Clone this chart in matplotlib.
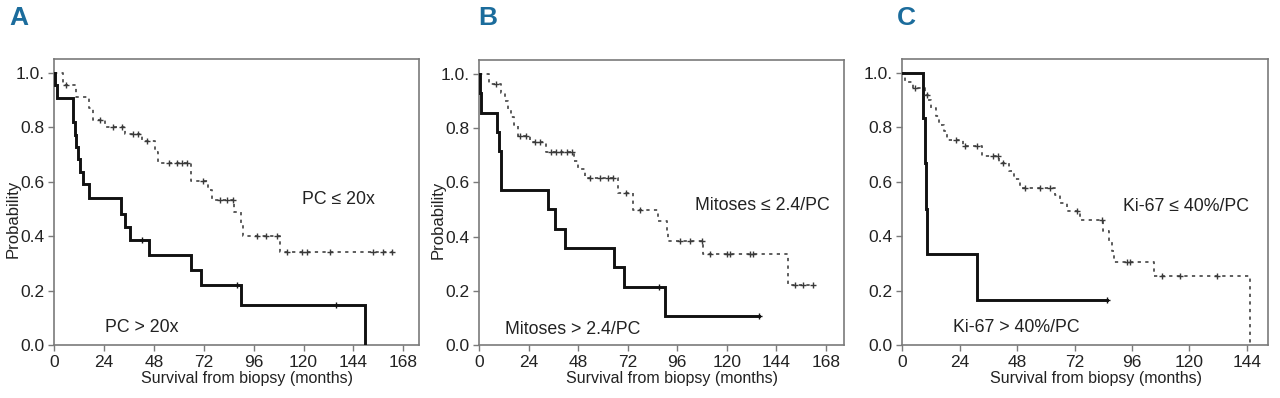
import numpy as np
import matplotlib
matplotlib.use("Agg")
import matplotlib.pyplot as plt

plt.rcParams['font.family'] = ['Liberation Sans Narrow', 'Liberation Sans', 'DejaVu Sans']

# ---------------- data ----------------
# Panel A
a_hi_label = "PC > 20x"
a_hi_t = [0, 0.5, 1.3, 8.8, 9.2, 9.8, 10.4, 11.6, 12.4, 13.6, 16.8, 31.9, 34.0, 36.4, 45.7, 65.6, 70.4, 89.7, 149.5]
a_hi_s = [1.0, 0.955, 0.909, 0.864, 0.818, 0.773, 0.727, 0.682, 0.636, 0.591, 0.54, 0.483, 0.435, 0.386, 0.331, 0.276, 0.221, 0.147, 0.0]
a_hi_cens = [42.0, 87.8, 135.6]
a_hi_end = 149.5

a_lo_label = "PC \u2264 20x"
a_lo_t = [0, 4.3, 10.4, 16.5, 18.8, 24.4, 34.0, 42.0, 48.5, 50.0, 65.6, 74.0, 75.7, 86.5, 90.0, 91.0, 108.6]
a_lo_s = [1.0, 0.955, 0.913, 0.87, 0.825, 0.80, 0.775, 0.75, 0.71, 0.668, 0.604, 0.57, 0.532, 0.489, 0.446, 0.40, 0.342]
a_lo_cens = [5.5, 22.0, 28.4, 32.4, 38.0, 40.4, 44.4, 55.0, 59.0, 61.5, 64.0, 71.7, 79.8, 83.0, 86.0,
             97.4, 102.0, 107.0, 111.8, 119.0, 121.5, 132.7, 153.6, 158.4, 162.4]
a_lo_end = 162.4

# Panel B
b_hi_label = "Mitoses > 2.4/PC"
b_hi_t = [0, 0.4, 1.1, 8.7, 9.7, 10.5, 33.4, 36.7, 41.8, 65.4, 70.3, 90.0]
b_hi_s = [1.0, 0.929, 0.857, 0.786, 0.714, 0.571, 0.5, 0.429, 0.357, 0.286, 0.214, 0.107]
b_hi_cens = [87.2, 135.7]
b_hi_end = 135.7

b_lo_label = "Mitoses \u2264 2.4/PC"
b_lo_t = [0, 4.8, 10.5, 12.5, 14.0, 15.5, 17.0, 18.9, 24.6, 32.6, 45.9, 48.0, 51.2, 67.4, 74.6, 86.7, 90.8, 91.6, 108.6, 149.8]
b_lo_s = [1.0, 0.964, 0.929, 0.90, 0.87, 0.84, 0.81, 0.772, 0.75, 0.71, 0.68, 0.65, 0.616, 0.56, 0.496, 0.459, 0.419, 0.382, 0.335, 0.222]
b_lo_cens = [8.0, 19.7, 22.9, 27.3, 29.7, 35.0, 37.5, 39.9, 42.4, 44.8, 53.6, 58.5, 62.5, 65.0, 71.4, 77.9,
             97.3, 102.0, 107.8, 111.8, 119.9, 121.5, 131.2, 132.8, 153.0, 157.0, 161.9]
b_lo_end = 161.9

# Panel C
c_hi_label = "Ki-67 > 40%/PC"
c_hi_t = [0, 8.8, 9.6, 9.9, 10.5, 31.1]
c_hi_s = [1.0, 0.833, 0.667, 0.5, 0.333, 0.167]
c_hi_cens = [85.5]
c_hi_end = 85.5

c_lo_label = "Ki-67 \u2264 40%/PC"
c_lo_t = [0, 1.1, 4.6, 9.5, 10.9, 12.2, 14.0, 15.4, 17.6, 18.5, 25.5, 33.2, 40.6, 44.4, 46.5, 49.2,
          63.9, 66.0, 68.8, 74.3, 84.1, 86.2, 87.6, 88.6, 105.3, 145.5]
c_lo_s = [1.0, 0.967, 0.943, 0.92, 0.90, 0.87, 0.84, 0.81, 0.785, 0.755, 0.733, 0.695, 0.67, 0.64, 0.61, 0.577,
          0.55, 0.52, 0.493, 0.458, 0.42, 0.38, 0.345, 0.306, 0.254, 0.0]
c_lo_cens = [5.3, 10.5, 22.5, 26.2, 31.1, 38.0, 40.0, 42.2, 51.3, 57.6, 61.8, 72.9, 83.4, 93.9, 95.3,
             108.5, 116.2, 131.5]
c_lo_end = 145.5

panel_letters = ["A", "B", "C"]
y_ticks = [0.0, 0.2, 0.4, 0.6, 0.8, 1.0]
y_ticklabels = ["0.0", "0.2", "0.4", "0.6", "0.8", "1.0."]
x_ticks_ab = [0, 24, 48, 72, 96, 120, 144, 168]
x_ticks_c = [0, 24, 48, 72, 96, 120, 144]
xlabel = "Survival from biopsy (months)"
ylabel = "Probability"

# ---------------- figure ----------------
W, H = 1280, 398
fig = plt.figure(figsize=(W / 100, H / 100), dpi=100)

def axrect(left, right, top, bottom):
    return [left / W, 1 - bottom / H, (right - left) / W, (bottom - top) / H]

SPINE = '#7a7a7a'
TXT = '#222222'

def km(ax, t, s, cens, end, solid):
    t = list(t) + [end]
    s = list(s) + [s[-1]]
    if solid:
        ax.step(t, s, where='post', color='#111111', lw=2.1, solid_joinstyle='miter', zorder=3)
        col = '#111111'
    else:
        ax.step(t, s, where='post', color='#505050', lw=1.3, dashes=(1.8, 2.4), zorder=2)
        col = '#3a3a3a'
    tt = np.array(t)
    ss = np.array(s)
    c = np.array(cens)
    idx = np.searchsorted(tt, c, side='right') - 1
    ax.plot(c, ss[idx], ls='none', marker='+', ms=4.5, mew=1.0, color=col, zorder=4)

def style(ax, xmax, xticks, show_ylabel):
    ax.set_xlim(0, xmax)
    ax.set_ylim(0, 1.051)
    ax.set_xticks(xticks)
    ax.set_xticklabels([str(v) for v in xticks])
    ax.set_yticks(y_ticks)
    ax.set_yticklabels(y_ticklabels)
    for sp in ax.spines.values():
        sp.set_color(SPINE)
        sp.set_linewidth(1.2)
    ax.tick_params(direction='out', length=4, width=1.0, color=SPINE,
                   labelsize=12.5, labelcolor=TXT, pad=3)
    ax.set_xlabel(xlabel, fontsize=11.5, color=TXT, va='top')
    ax.xaxis.set_label_coords(0.528, -0.092)
    if show_ylabel:
        ax.set_ylabel(ylabel, fontsize=12, color=TXT, va='center')
        ax.yaxis.set_label_coords(-0.113, 0.44)

LBL = 12.8

# Panel A
axA = fig.add_axes(axrect(54.3, 419.3, 59, 345))
km(axA, a_lo_t, a_lo_s, a_lo_cens, a_lo_end, False)
km(axA, a_hi_t, a_hi_s, a_hi_cens, a_hi_end, True)
style(axA, 175.7, x_ticks_ab, True)
axA.text(137, 0.533, a_lo_label, fontsize=LBL, color=TXT, ha='center', va='center')
axA.text(42, 0.066, a_hi_label, fontsize=LBL, color=TXT, ha='center', va='center')

# Panel B
axB = fig.add_axes(axrect(479, 844, 60, 345))
km(axB, b_lo_t, b_lo_s, b_lo_cens, b_lo_end, False)
km(axB, b_hi_t, b_hi_s, b_hi_cens, b_hi_end, True)
style(axB, 176.7, x_ticks_ab, True)
axB.text(137.3, 0.515, b_lo_label, fontsize=LBL, color=TXT, ha='center', va='center')
axB.text(45.5, 0.058, b_hi_label, fontsize=LBL, color=TXT, ha='center', va='center')

# Panel C
axC = fig.add_axes(axrect(902.3, 1268.3, 59, 345))
km(axC, c_lo_t, c_lo_s, c_lo_cens, c_lo_end, False)
km(axC, c_hi_t, c_hi_s, c_hi_cens, c_hi_end, True)
style(axC, 153.0, x_ticks_c, False)
axC.text(118.4, 0.51, c_lo_label, fontsize=LBL, color=TXT, ha='center', va='center')
axC.text(47.5, 0.066, c_hi_label, fontsize=LBL, color=TXT, ha='center', va='center')

# Panel letters
for letter, xpx in zip(panel_letters, [9, 478, 897]):
    fig.text(xpx / W, 1 - 6 / H, letter, fontsize=19, fontweight='bold',
             color='#1b6c9c', ha='left', va='top')

fig.savefig("out.png", dpi=100, facecolor='white')
